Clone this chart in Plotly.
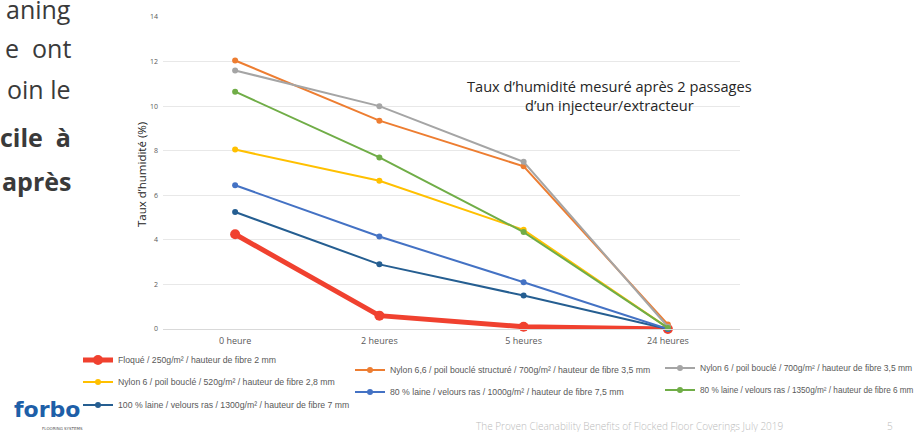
import plotly.graph_objects as go

# ---- data ----
categories = ["0 heure", "2 heures", "5 heures", "24 heures"]
series_names = [
    "Floqué / 250g/m² / hauteur de fibre 2 mm",
    "Nylon 6 / poil bouclé / 520g/m² / hauteur de fibre 2,8 mm",
    "100 % laine / velours ras / 1300g/m² / hauteur de fibre 7 mm",
    "Nylon 6,6 / poil bouclé structuré / 700g/m² / hauteur de fibre 3,5 mm",
    "80 % laine / velours ras / 1000g/m² / hauteur de fibre 7,5 mm",
    "Nylon 6 / poil bouclé / 700g/m² / hauteur de fibre 3,5 mm",
    "80 % laine / velours ras / 1350g/m² / hauteur de fibre 6 mm",
]
floque = [4.25, 0.6, 0.1, 0.0]
nylon6_520 = [8.05, 6.65, 4.45, 0.05]
laine100_1300 = [5.25, 2.9, 1.5, 0.0]
nylon66_700 = [12.05, 9.35, 7.3, 0.2]
laine80_1000 = [6.45, 4.15, 2.1, 0.0]
nylon6_700 = [11.6, 10.0, 7.5, 0.1]
laine80_1350 = [10.65, 7.7, 4.35, 0.05]
y_ticks = [0, 2, 4, 6, 8, 10, 12, 14]

series_values = [floque, nylon6_520, laine100_1300, nylon66_700,
                 laine80_1000, nylon6_700, laine80_1350]
colors = ["#F0412F", "#FFC000", "#255E91", "#ED7D31", "#4472C4", "#A5A5A5", "#70AD47"]

W, H = 922, 432
L, R, T, B = 163, 182, 17, 103
PW, PH = W - L - R, H - T - B

def xp(px):
    return (px - L) / PW

def yp(py):
    return (H - B - py) / PH

# legend item positions (left x, center y, font size) in pixels
legend_pos = [(78, 360, 8.7), (78, 382, 8.7), (78, 405, 8.7), (350, 370, 8.7),
              (350, 392, 8.7), (660, 368, 8.5), (660, 390, 8.2)]

fig = go.Figure()
for i, (name, vals, col) in enumerate(zip(series_names, series_values, colors)):
    thick = i == 0
    lg = "legend" if i == 0 else f"legend{i+1}"
    fig.add_trace(go.Scatter(
        x=categories, y=vals, name=name, mode="lines+markers",
        line=dict(color=col, width=5 if thick else 2),
        marker=dict(color=col, size=10 if thick else 6),
        cliponaxis=False, legend=lg,
    ))

layout_legends = {}
for i, (lx, ly, fs) in enumerate(legend_pos):
    key = "legend" if i == 0 else f"legend{i+1}"
    layout_legends[key] = dict(
        x=xp(lx), y=yp(ly), xanchor="left", yanchor="middle",
        bgcolor="rgba(0,0,0,0)", borderwidth=0,
        font=dict(family="Liberation Sans", size=fs, color="#595959"),
    )

fig.update_layout(
    width=W, height=H,
    margin=dict(l=L, r=R, t=T, b=B, pad=0, autoexpand=False),
    paper_bgcolor="white", plot_bgcolor="white",
    showlegend=True,
    xaxis=dict(type="category", range=[-0.5, 3.5], showgrid=False,
               showline=True, linecolor="#D9D9D9", linewidth=1,
               ticks="", tickfont=dict(family="Open Sans", size=9, color="#595959"),
               ticklabelstandoff=3, zeroline=False, fixedrange=True),
    yaxis=dict(range=[0, 14], tickvals=y_ticks, showgrid=True, gridcolor="#E8E8E8",
               gridwidth=1, zeroline=False, showline=False, ticks="",
               tickfont=dict(family="Open Sans", size=7, color="#595959"),
               ticklabelstandoff=4, fixedrange=True),
    **layout_legends,
)

def note(px, py, text, font, xanchor="center", yanchor="middle", **kw):
    return dict(x=xp(px), y=yp(py), xref="paper", yref="paper", text=text,
                xanchor=xanchor, yanchor=yanchor, showarrow=False, font=font, **kw)

ann = []
# y-axis title
ann.append(note(141, 175, "Taux d’humidité (%)",
                dict(family="Open Sans", size=11.5, color="#222222"), textangle=-90))
# chart title
ann.append(note(609, 95, "Taux d’humidité mesuré après 2 passages<br>d’un injecteur/extracteur",
                dict(family="Open Sans", size=14.6, color="#262626"), align="center"))
# left slide text fragments
left_lines = [("aning", 9, 400), ("e  ont", 48, 400), ("oin le", 89, 400),
              ("cile  à", 137, 700), ("après", 181, 700)]
for txt, cy, wt in left_lines:
    ann.append(note(73, cy, txt, dict(family="Open Sans", size=25, color="#3A3A3A", weight=wt),
                    xanchor="right"))
# logo
ann.append(note(47, 409, "forbo", dict(family="DejaVu Sans", size=22, color="#1E5FA8", weight=700)))
ann.append(note(62, 428, "FLOORING SYSTEMS", dict(family="DejaVu Sans", size=4, color="#555555")))
# footer
ann.append(note(630, 426, "The Proven Cleanability Benefits of Flocked Floor Coverings July 2019",
                dict(family="Open Sans", size=10, color="#BBBBBB", weight=300)))
ann.append(note(890, 426, "5", dict(family="Open Sans", size=10, color="#BBBBBB", weight=300)))
fig.update_layout(annotations=ann)

fig.write_html("out.html", config={"displayModeBar": False},
               post_script="document.body.style.margin='0';")
